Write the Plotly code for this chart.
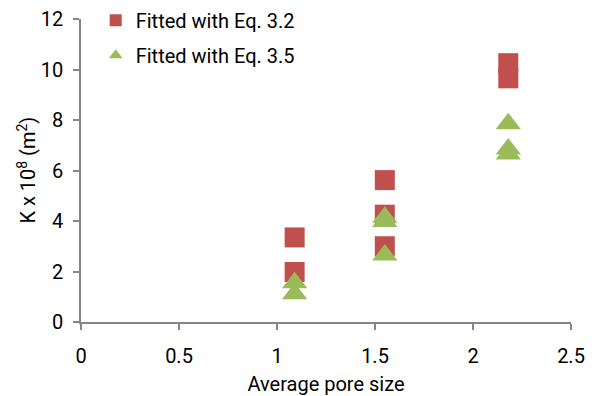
import plotly.graph_objects as go

x_eq32 = [1.09, 1.09, 1.55, 1.55, 1.55, 2.18, 2.18]
y_eq32 = [3.35, 1.98, 5.62, 4.25, 3.0, 10.25, 9.65]
x_eq35 = [1.09, 1.09, 1.55, 1.55, 1.55, 2.18, 2.18, 2.18]
y_eq35 = [1.55, 1.12, 4.15, 3.98, 2.65, 7.85, 6.85, 6.65]

x_ticks = [0, 0.5, 1, 1.5, 2, 2.5]
y_ticks = [0, 2, 4, 6, 8, 10, 12]

font_family = "Roboto, Liberation Sans, Arial, sans-serif"
FS = 20

fig = go.Figure()
fig.add_trace(go.Scatter(
    x=x_eq32, y=y_eq32, mode="markers", name="Fitted with Eq. 3.2",
    legendgroup="a",
    marker=dict(symbol="square", size=20, color="#C0504D"),
))
fig.add_trace(go.Scatter(
    x=x_eq35, y=y_eq35, mode="markers", name="Fitted with Eq. 3.5",
    legendgroup="b",
    marker=dict(symbol="triangle-up", size=22, color="#9BBB59"),
))

axis_common = dict(
    showline=True, linecolor="#868686", linewidth=1.5,
    ticks="outside", tickcolor="#868686", ticklen=6, tickwidth=1.5,
    showgrid=False, zeroline=False, automargin=False,
    ticklabeloverflow="allow",
    tickfont=dict(size=FS, color="#000000", family=font_family),
)
fig.update_xaxes(range=[0, 2.5], tickvals=x_ticks,
                 ticktext=[str(v) for v in x_ticks],
                 ticklabelstandoff=9,
                 title=dict(text="Average pore size", font=dict(size=FS, color="#000000"), standoff=13),
                 **axis_common)
fig.update_yaxes(range=[0, 12], tickvals=y_ticks,
                 ticklabelstandoff=6,
                 **axis_common)

# y-axis title placed as a rotated annotation for precise positioning
fig.add_annotation(
    text="K x 10<sup>8</sup> (m<sup>2</sup>)", xref="paper", yref="paper",
    x=-0.112, y=0.5, xanchor="center", yanchor="middle", textangle=-90,
    showarrow=False, font=dict(size=FS, color="#000000", family=font_family),
)

# page body has an 8px default margin, so the figure is sized/offset to fit the 595x396 window
fig.update_layout(
    width=587, height=388,
    margin=dict(l=73, r=24, t=11, b=74, autoexpand=False),
    paper_bgcolor="white", plot_bgcolor="white",
    font=dict(family=font_family, color="#000000"),
    showlegend=True,
    legend=dict(x=0.03, y=1.06, xanchor="left", yanchor="top",
                bgcolor="rgba(0,0,0,0)", font=dict(size=FS),
                itemsizing="constant", tracegroupgap=6,
                traceorder="grouped", itemwidth=30),
)

fig.write_html("out.html")
